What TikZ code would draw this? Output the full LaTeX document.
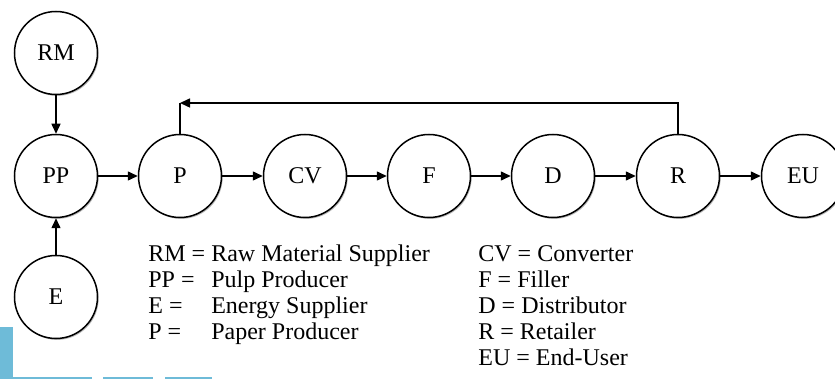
\documentclass[tikz,border=0pt]{standalone}
\usepackage{fontspec}
\setmainfont{Liberation Serif}
\usepackage{tikz}
\usetikzlibrary{arrows.meta, shadows}

\definecolor{barblue}{RGB}{110,187,216}

\tikzset{
	stage/.style={circle, draw, line width=0.75pt, fill=white, minimum size=41.5pt, inner sep=0pt,
		drop shadow={shadow xshift=0.6pt, shadow yshift=-0.7pt, fill=black!45, opacity=0.6},
		font=\fontsize{12}{13}\selectfont},
	flow/.style={line width=0.75pt, -{Triangle[length=5pt, width=4.5pt]}},
	legend/.style={inner sep=0pt, anchor=north west, font=\fontsize{12}{13}\selectfont}
}

\begin{document}
\begin{tikzpicture}[x=0.5pt, y=-0.5pt]
			\useasboundingbox (0, 0) rectangle (835, 379);
			
			% Scan remnants
			\fill[barblue] (0, 327) rectangle (13, 379);
			\fill[barblue] (13, 377) rectangle (92, 379);
			\fill[barblue] (103, 377) rectangle (153, 379);
			\fill[barblue] (165, 377) rectangle (212, 379);
			
			% Nodes
			\node[stage] (rm) at (56, 53) {RM};
			\node[stage] (pp) at (56, 176) {PP};
			\node[stage] (e) at (56, 297) {E};
			\node[stage] (p) at (180, 176) {P};
			\node[stage] (cv) at (305, 176) {CV};
			\node[stage] (f) at (429, 176) {F};
			\node[stage] (d) at (553, 176) {D};
			\node[stage] (r) at (678, 176) {R};
			\node[stage] (eu) at (803, 176) {EU};
			
			% Flows
			\draw[flow] (rm) -- (pp);
			\draw[flow] (e) -- (pp);
			\draw[flow] (pp) -- (p);
			\draw[flow] (p) -- (cv);
			\draw[flow] (cv) -- (f);
			\draw[flow] (f) -- (d);
			\draw[flow] (d) -- (r);
			\draw[flow] (r) -- (eu);
			
			% Return loop
			\coordinate (back) at (180, 103);
			\draw[flow] (r.north) |- (back);
			\draw[line width=0.75pt] (back) -- (p.north);
			
			% Legend
			\node[legend] (keyleft) at (148, 243) {%
				\begin{tabular}{@{}l@{\hspace{3pt}}l@{}}
					RM = & Raw Material Supplier\\
					PP = & Pulp Producer\\
					E = & Energy Supplier\\
					P = & Paper Producer
				\end{tabular}};
			\node[legend] (keyright) at (478, 243) {%
				\begin{tabular}{@{}l@{}}
					CV = Converter\\
					F = Filler\\
					D = Distributor\\
					R = Retailer\\
					EU = End-User
				\end{tabular}};
		\end{tikzpicture}
\end{document}
